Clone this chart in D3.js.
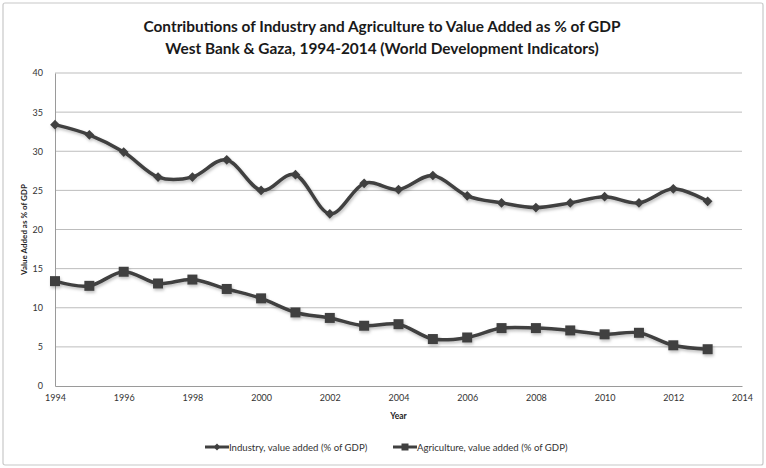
<!DOCTYPE html>
<html>
<head>
<meta charset="utf-8">
<script src="https://cdn.jsdelivr.net/npm/d3@7"></script>
<style>
  html, body { margin: 0; padding: 0; background: #fff; }
  svg { display: block; }
  text { font-family: "Lato", "Open Sans", sans-serif; }
</style>
</head>
<body>
<svg id="chart" width="766" height="468"></svg>
<script>
// World Development Indicators, West Bank & Gaza
const years = [1994, 1995, 1996, 1997, 1998, 1999, 2000, 2001, 2002, 2003,
               2004, 2005, 2006, 2007, 2008, 2009, 2010, 2011, 2012, 2013];
const industry = [33.4, 32.1, 29.9, 26.7, 26.7, 28.9, 25.0, 27.0, 22.0, 25.9,
                  25.1, 26.9, 24.3, 23.4, 22.8, 23.4, 24.2, 23.4, 25.2, 23.6];
const agriculture = [13.4, 12.8, 14.6, 13.1, 13.6, 12.4, 11.2, 9.4, 8.7, 7.7,
                     7.9, 6.0, 6.2, 7.4, 7.4, 7.1, 6.6, 6.8, 5.2, 4.7];
const xTicks = [1994, 1996, 1998, 2000, 2002, 2004, 2006, 2008, 2010, 2012, 2014];
const yTicks = [0, 5, 10, 15, 20, 25, 30, 35, 40];
const titleLines = [
  "Contributions of Industry and Agriculture to Value Added as % of GDP",
  "West Bank & Gaza, 1994-2014 (World Development Indicators)"
];
const seriesNames = ["Industry, value added (% of GDP)", "Agriculture, value added (% of GDP)"];

const svg = d3.select("#chart");
const W = 766, H = 468;
const m = { left: 55, right: 24, top: 73, bottom: 82 };

const x = d3.scaleLinear().domain([1994, 2014]).range([m.left, W - m.right]);
const y = d3.scaleLinear().domain([0, 40]).range([H - m.bottom, m.top]);

const ink = "#404040";

// outer frame
svg.append("rect")
  .attr("x", 3).attr("y", 3).attr("width", W - 6).attr("height", H - 6)
  .attr("rx", 2).attr("fill", "#fff").attr("stroke", "#c8c8c8").attr("stroke-width", 1.2);

// title
svg.append("g").selectAll("text").data(titleLines).join("text")
  .attr("x", W / 2 - 1).attr("y", (d, i) => 32 + i * 22)
  .attr("text-anchor", "middle")
  .attr("font-size", 15.4).attr("font-weight", "bold").attr("fill", "#1a1a1a")
  .text(d => d);

// horizontal gridlines
svg.append("g").selectAll("line").data(yTicks.filter(t => t > 0)).join("line")
  .attr("x1", x(1994)).attr("x2", x(2014))
  .attr("y1", d => y(d)).attr("y2", d => y(d))
  .attr("stroke", "#bdbdbd").attr("stroke-width", 1);

// y axis
const yAxis = svg.append("g")
  .attr("transform", `translate(${m.left},0)`)
  .call(d3.axisLeft(y).tickValues(yTicks).tickSize(0).tickPadding(12));
yAxis.select(".domain").attr("stroke", "#9a9a9a");
yAxis.selectAll("text").attr("font-size", 9).attr("fill", "#333")
  .attr("font-family", "Lato, sans-serif");

// x axis
const xAxis = svg.append("g")
  .attr("transform", `translate(0,${y(0)})`)
  .call(d3.axisBottom(x).tickValues(xTicks).tickFormat(d3.format("d")).tickSize(0).tickPadding(9));
xAxis.select(".domain").attr("stroke", "#9a9a9a");
xAxis.selectAll("text").attr("font-size", 9).attr("fill", "#333")
  .attr("font-family", "Lato, sans-serif");

// axis titles
svg.append("text")
  .attr("x", x(2004)).attr("y", 419)
  .attr("text-anchor", "middle").attr("font-size", 8.5).attr("font-weight", "bold").attr("fill", "#222")
  .text("Year");
svg.append("text")
  .attr("transform", `translate(27,${y(20)}) rotate(-90)`)
  .attr("text-anchor", "middle").attr("font-size", 8).attr("font-weight", "bold").attr("fill", "#222")
  .text("Value Added as % of GDP");

// soft drop shadow under the series
const defs = svg.append("defs");
const f = defs.append("filter").attr("id", "shadow")
  .attr("x", "-5%").attr("y", "-20%").attr("width", "110%").attr("height", "140%");
f.append("feDropShadow").attr("dx", 1).attr("dy", 2).attr("stdDeviation", 1.5)
  .attr("flood-color", "#000").attr("flood-opacity", 0.25);

const line = d3.line()
  .x(d => x(d[0])).y(d => y(d[1]))
  .curve(d3.curveCatmullRom.alpha(0));

const indData = years.map((yr, i) => [yr, industry[i]]);
const agrData = years.map((yr, i) => [yr, agriculture[i]]);

const plot = svg.append("g").attr("filter", "url(#shadow)");

plot.append("path").datum(indData).attr("d", line)
  .attr("fill", "none").attr("stroke", ink).attr("stroke-width", 3.5);
plot.append("path").datum(agrData).attr("d", line)
  .attr("fill", "none").attr("stroke", ink).attr("stroke-width", 3.5);

// diamond markers (industry)
const diamond = d3.symbol().type(d3.symbolDiamond2).size(60);
plot.append("g").selectAll("path").data(indData).join("path")
  .attr("transform", d => `translate(${x(d[0])},${y(d[1])})`)
  .attr("d", diamond).attr("fill", ink);

// square markers (agriculture)
const sq = 10;
plot.append("g").selectAll("rect").data(agrData).join("rect")
  .attr("x", d => x(d[0]) - sq / 2).attr("y", d => y(d[1]) - sq / 2)
  .attr("width", sq).attr("height", sq).attr("fill", ink);

// legend
const legend = svg.append("g").attr("transform", "translate(0,447)");
const legX = [205, 393];
seriesNames.forEach((name, i) => {
  const g = legend.append("g").attr("transform", `translate(${legX[i]},0)`);
  g.append("line").attr("x1", 0).attr("x2", 24).attr("y1", 0).attr("y2", 0)
    .attr("stroke", ink).attr("stroke-width", 3);
  if (i === 0) {
    g.append("path").attr("transform", "translate(12,0)")
      .attr("d", d3.symbol().type(d3.symbolDiamond2).size(30)).attr("fill", ink);
  } else {
    g.append("rect").attr("x", 8.5).attr("y", -3.5).attr("width", 7).attr("height", 7).attr("fill", ink);
  }
  g.append("text").attr("x", 24).attr("y", 3.5).attr("font-size", 9.6).attr("fill", "#333")
    .text(name);
});
</script>
</body>
</html>
